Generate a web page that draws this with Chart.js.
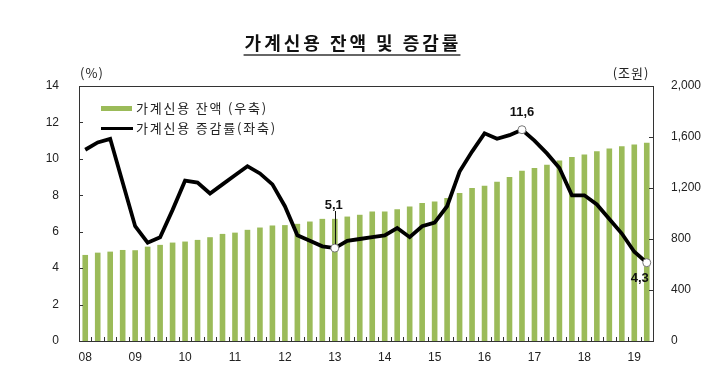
<!DOCTYPE html>
<html>
<head>
<meta charset="utf-8">
<script src="https://cdn.jsdelivr.net/npm/chart.js@4.4.0/dist/chart.umd.min.js"></script>
<style>
  html, body { margin: 0; padding: 0; background: #fff; }
  #wrap { position: relative; width: 717px; height: 373px; }
</style>
</head>
<body>
<div id="wrap"><canvas id="creditChart" width="717" height="373"></canvas></div>
<script>
// 분기: 2008Q1 ~ 2019Q2
const years = ['08', '09', '10', '11', '12', '13', '14', '15', '16', '17', '18', '19'];
const quarters = [];
years.forEach(function (y) {
    for (let q = 1; q <= 4; q++) quarters.push(y + 'Q' + q);
});
quarters.length = 46;

// 가계신용 잔액 (조원, 우축)
const balance = [
    675, 693, 701, 714,
    712, 740, 754, 772,
    780, 793, 814, 840,
    850, 872, 890, 906,
    909, 919, 937, 958,
    958, 976, 990, 1016,
    1016, 1034, 1055, 1082,
    1095, 1121, 1161, 1200,
    1218, 1250, 1287, 1336,
    1357, 1383, 1415, 1444,
    1462, 1488, 1509, 1528,
    1541, 1554
];

// 가계신용 증감률 (%, 좌축)
const growth = [
    10.5, 10.9, 11.1, 8.7,
    6.3, 5.4, 5.7, 7.2,
    8.8, 8.7, 8.1, 8.6,
    9.1, 9.6, 9.2, 8.6,
    7.4, 5.8, 5.5, 5.2,
    5.1, 5.5, 5.6, 5.7,
    5.8, 6.2, 5.7, 6.3,
    6.5, 7.4, 9.3, 10.4,
    11.4, 11.1, 11.3, 11.6,
    11.0, 10.3, 9.5, 8.0,
    8.0, 7.5, 6.7, 5.9,
    4.9, 4.3
];

// 표시할 값 (인덱스)
const markedPoints = [20, 35, 45];

const FONT = "'Liberation Sans', 'Noto Sans CJK KR', sans-serif";
const KFONT = "'Noto Sans CJK KR', sans-serif";
const GREEN = 'rgb(155, 187, 89)';

// 제목, 단위, 범례, 값 표시, 테두리
const decorPlugin = {
    id: 'decor',
    afterDraw: function (chart) {
        const ctx = chart.ctx;
        const area = chart.chartArea;
        const y = chart.scales.y;
        const y1 = chart.scales.y1;
        ctx.save();

        // frame
        ctx.strokeStyle = '#333';
        ctx.lineWidth = 1;
        ctx.strokeRect(area.left + 0.5, area.top + 0.5, area.right - area.left, area.bottom - area.top);

        // inward tick marks
        ctx.beginPath();
        for (let i = 0; i <= quarters.length; i++) {
            const px = Math.round(area.left + (area.right - area.left) * i / quarters.length) + 0.5;
            ctx.moveTo(px, area.bottom);
            ctx.lineTo(px, area.bottom - 4);
        }
        for (let v = 2; v < 14; v += 2) {
            const py = Math.round(y.getPixelForValue(v)) + 0.5;
            ctx.moveTo(area.left, py);
            ctx.lineTo(area.left + 4, py);
        }
        for (let v = 400; v < 2000; v += 400) {
            const py = Math.round(y1.getPixelForValue(v)) + 0.5;
            ctx.moveTo(area.right, py);
            ctx.lineTo(area.right - 4, py);
        }
        ctx.stroke();

        // title
        ctx.fillStyle = '#111';
        ctx.font = 'bold 18px ' + KFONT;
        ctx.textAlign = 'center';
        ctx.textBaseline = 'middle';
        ctx.letterSpacing = '3px';
        const title = '가계신용 잔액 및 증감률';
        ctx.fillText(title, 353, 43);
        const tw = ctx.measureText(title).width;
        ctx.letterSpacing = '0px';
        ctx.fillStyle = '#666';
        ctx.fillRect(352 - tw / 2, 54, tw, 2);

        // units
        ctx.fillStyle = '#222';
        ctx.font = '13px ' + KFONT;
        ctx.letterSpacing = '1px';
        ctx.fillText('(%)', 92, 73);
        ctx.fillText('(조원)', 631, 73);

        // legend
        ctx.fillStyle = GREEN;
        ctx.fillRect(101, 106, 31, 5);
        ctx.fillStyle = '#000';
        ctx.fillRect(101, 127, 32, 3);
        ctx.fillStyle = '#222';
        ctx.textAlign = 'left';
        ctx.font = '13px ' + KFONT;
        ctx.letterSpacing = '1.8px';
        ctx.fillText('가계신용 잔액 (우축)', 136, 108);
        ctx.fillText('가계신용 증감률(좌축)', 136, 128);
        ctx.letterSpacing = '0px';

        // value labels
        ctx.font = 'bold 13px ' + FONT;
        ctx.fillStyle = '#111';
        ctx.textAlign = 'center';
        const meta = chart.getDatasetMeta(1);
        const p20 = meta.data[20], p35 = meta.data[35], p45 = meta.data[45];
        ctx.fillText('5,1', p20.x - 1, 205);
        ctx.beginPath();
        ctx.strokeStyle = '#111';
        ctx.moveTo(Math.round(p20.x) + 0.5, 211);
        ctx.lineTo(Math.round(p20.x) + 0.5, p20.y - 4);
        ctx.stroke();
        ctx.fillText('11,6', p35.x, p35.y - 17);
        ctx.fillText('4,3', p45.x - 7, p45.y + 16);

        ctx.restore();
    }
};

const ctx = document.getElementById('creditChart').getContext('2d');
const creditChart = new Chart(ctx, {
    data: {
        labels: quarters,
        datasets: [{
            type: 'bar',
            label: '가계신용 잔액 (우축)',
            data: balance,
            yAxisID: 'y1',
            backgroundColor: GREEN,
            barPercentage: 0.45,
            categoryPercentage: 1.0,
            order: 2
        }, {
            type: 'line',
            label: '가계신용 증감률(좌축)',
            data: growth,
            yAxisID: 'y',
            borderColor: '#000',
            borderWidth: 3.8,
            tension: 0,
            fill: false,
            pointRadius: growth.map(function (v, i) { return markedPoints.includes(i) ? 4 : 0; }),
            pointBackgroundColor: '#fff',
            pointBorderColor: '#777',
            pointBorderWidth: 1,
            order: 1
        }]
    },
    options: {
        responsive: false,
        animation: false,
        layout: {
            padding: { top: 86, left: 0, right: 0, bottom: 0 }
        },
        plugins: {
            legend: { display: false },
            tooltip: { enabled: false },
            title: { display: false }
        },
        scales: {
            x: {
                offset: true,
                grid: { display: false },
                border: { display: false },
                ticks: {
                    autoSkip: false,
                    maxRotation: 0,
                    padding: 1,
                    color: '#222',
                    font: { family: FONT, size: 12 },
                    callback: function (value, index) {
                        const lbl = quarters[index];
                        return lbl.endsWith('Q1') ? lbl.slice(0, 2) : '';
                    }
                },
                afterFit: function (axis) { axis.height = 32; }
            },
            y: {
                position: 'left',
                min: 0,
                max: 14,
                grid: { display: false },
                border: { display: false },
                ticks: {
                    stepSize: 2,
                    padding: 12,
                    color: '#222',
                    font: { family: FONT, size: 12 }
                },
                afterFit: function (axis) { axis.width = 79; }
            },
            y1: {
                position: 'right',
                min: 0,
                max: 2000,
                grid: { display: false },
                border: { display: false },
                ticks: {
                    stepSize: 400,
                    padding: 10,
                    color: '#222',
                    font: { family: FONT, size: 12 },
                    callback: function (value) {
                        return value.toLocaleString('en-US');
                    }
                },
                afterFit: function (axis) { axis.width = 64; }
            }
        }
    },
    plugins: [decorPlugin]
});
</script>
</body>
</html>
